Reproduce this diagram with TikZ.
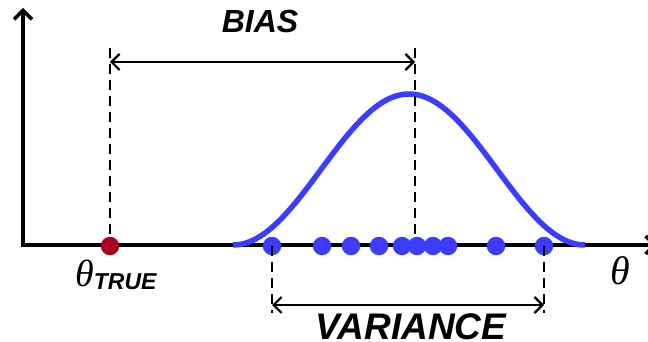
\documentclass[tikz,border=0pt]{standalone}
\usepackage{fontspec}
\setmainfont{Liberation Sans}
\newfontfamily\thetafont{Liberation Serif}
\usetikzlibrary{arrows.meta}
\definecolor{curveblue}{RGB}{60,60,255}
\definecolor{truered}{RGB}{170,0,35}
\tikzset{
  axisline/.style={line width=3.4pt,-{Straight Barb[length=9pt,width=18pt,line width=3.4pt]}},
  guide/.style={line width=2pt,dash pattern=on 10pt off 6pt},
  measure/.style={line width=2.2pt,{Straight Barb[length=8pt,width=16pt,line width=2.2pt]}-{Straight Barb[length=8pt,width=16pt,line width=2.2pt]}},
  sample/.style={circle,fill=curveblue,inner sep=0pt,minimum size=18.5pt},
  truedot/.style={circle,fill=truered,inner sep=0pt,minimum size=18.5pt},
  biglabel/.style={font=\fontsize{32}{32}\selectfont\bfseries\itshape,inner sep=0pt},
}
\begin{document}
\begin{tikzpicture}[x=1pt,y=-1pt]
\useasboundingbox (0,0) rectangle (648,342);
% axes
\coordinate (origin) at (23,245);
\coordinate (ytop) at (23,8);
\coordinate (xend) at (657,245);
\draw[axisline] (origin) -- (ytop);
\draw[line width=3.4pt] (21.3,245) -- (xend);
\draw[axisline] (640,245) -- (xend);
% curve
\draw[curveblue,line width=5.5pt] plot[domain=233:585,samples=120] (\x,{245-75.5*(1+cos((\x-409)/176*180))});
% guides
\coordinate (bl) at (110,48);
\coordinate (br) at (415,48);
\coordinate (blb) at (110,245);
\coordinate (brb) at (415,245);
\draw[guide] (bl) -- (blb);
\draw[guide] (br) -- (brb);
\draw[measure] (110,62) -- (415,62);
% samples
\foreach \n/\px in {s1/272,s2/322,s3/351,s4/379,s5/402,s6/417,s7/433,s8/448,s9/496,s10/544}
  \node[sample] (\n) at (\px,246) {};
\node[truedot] (truth) at (110,246) {};
\draw[guide] (blb) -- (truth.center);
% variance guides
\coordinate (vl) at (272,313);
\coordinate (vr) at (544,313);
\draw[guide] (s1.center) -- (vl);
\draw[guide] (s10.center) -- (vr);
\draw[measure] (272,305) -- (544,305);
% labels
\node[biglabel,anchor=base] (bias) at (260,33) {BIAS};
\node[biglabel,anchor=base,font=\fontsize{37}{37}\selectfont\bfseries\itshape] (var) at (411,339.5) {VARIANCE};
\node[anchor=base west,inner sep=0pt] (thtrue) at (75,286) {{\thetafont\itshape\fontsize{38}{38}\selectfont θ}\raisebox{-3pt}{\fontsize{23}{23}\selectfont\bfseries\itshape TRUE}};
\node[anchor=base west,inner sep=0pt] (theta) at (610,284) {\thetafont\itshape\fontsize{40}{40}\selectfont θ};
\end{tikzpicture}
\end{document}
